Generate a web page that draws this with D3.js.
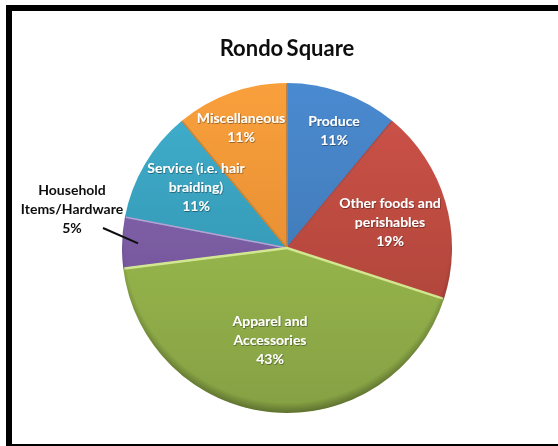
<!DOCTYPE html>
<html>
<head>
<meta charset="utf-8">
<script src="https://cdn.jsdelivr.net/npm/d3@7"></script>
<style>
    html, body { margin: 0; padding: 0; background: #fff; }
    svg { display: block; }
    text { font-family: Lato, "Open Sans", sans-serif; font-weight: 700; text-anchor: middle; }
</style>
</head>
<body>
<div id="chart"></div>
<script>
// Chart data
const categories = ["Produce", "Other foods and perishables", "Apparel and Accessories",
    "Household Items/Hardware", "Service (i.e. hair braiding)", "Miscellaneous"];
const shares = [11, 19, 43, 5, 11, 11];
const labelLines = [
    ["Produce", "11%"],
    ["Other foods and", "perishables", "19%"],
    ["Apparel and", "Accessories", "43%"],
    ["Household", "Items/Hardware", "5%"],
    ["Service (i.e. hair", "braiding)", "11%"],
    ["Miscellaneous", "11%"]
];
const chartTitle = "Rondo Square";

// Slice colours: top of gradient, bottom of gradient, edge highlight
const topColors = ["#4a8ad0", "#cf5449", "#a6c854", "#8a68b4", "#3fb0cf", "#f9a03c"];
const bottomColors = ["#3a70a8", "#a33f35", "#85a043", "#6a4d8e", "#2f88a2", "#d9822b"];
const edgeColors = ["#3d74b0", "#b5483e", "#d2e890", "#b7a0d4", "#4a9db8", "#d98428"];

// Where each label sits, relative to the pie centre
const labelOffsets = [[47, -122], [103, -40], [-17, 78], [-215, -53], [-91, -75], [-46, -125]];
const labelColors = ["#fff", "#fff", "#fff", "#111", "#fff", "#fff"];

const width = 558, height = 446;
const cx = 287, cy = 248, radius = 165;

const svg = d3.select("#chart").append("svg")
    .attr("width", width)
    .attr("height", height);

const defs = svg.append("defs");

// One vertical gradient per slice, spanning the whole pie
categories.forEach((c, i) => {
    const g = defs.append("linearGradient")
        .attr("id", `slice-${i}`)
        .attr("gradientUnits", "userSpaceOnUse")
        .attr("x1", 0).attr("x2", 0)
        .attr("y1", -radius).attr("y2", radius);
    g.append("stop").attr("offset", "0%").attr("stop-color", topColors[i]);
    g.append("stop").attr("offset", "100%").attr("stop-color", bottomColors[i]);
});

// Darkened rim, centred high so it only shows towards the bottom
const rim = defs.append("radialGradient")
    .attr("id", "rim")
    .attr("gradientUnits", "userSpaceOnUse")
    .attr("cx", 0).attr("cy", -8).attr("r", radius + 8);
rim.append("stop").attr("offset", "94%").attr("stop-color", "#000").attr("stop-opacity", 0);
rim.append("stop").attr("offset", "100%").attr("stop-color", "#000").attr("stop-opacity", 0.3);

defs.append("filter").attr("id", "soft")
    .append("feGaussianBlur").attr("stdDeviation", 0.35);

const labelShadow = defs.append("filter").attr("id", "label-shadow")
    .attr("x", "-10%").attr("y", "-20%").attr("width", "120%").attr("height", "140%");
labelShadow.append("feDropShadow")
    .attr("dx", 0.6).attr("dy", 0.8).attr("stdDeviation", 0.6)
    .attr("flood-color", "#000").attr("flood-opacity", 0.45);

// Black frame: open on the right, as in the picture
const frameColor = "#000";
svg.append("rect").attr("x", 6).attr("y", 5).attr("width", width - 6).attr("height", 6).attr("fill", frameColor);
svg.append("rect").attr("x", 6).attr("y", 5).attr("width", 6).attr("height", height - 5).attr("fill", frameColor);
svg.append("rect").attr("x", 6).attr("y", 444).attr("width", width - 6).attr("height", 2).attr("fill", frameColor);

svg.append("text")
    .attr("x", cx)
    .attr("y", 56)
    .attr("font-size", 22)
    .attr("fill", "#111")
    .attr("word-spacing", "-2px")
    .attr("filter", "url(#soft)")
    .text(chartTitle);

const pie = d3.pie().sort(null)(shares);
const arc = d3.arc().innerRadius(0).outerRadius(radius);

const pieGroup = svg.append("g")
    .attr("transform", `translate(${cx},${cy})`)
    .attr("filter", "url(#soft)");

pieGroup.selectAll(".slice")
    .data(pie)
    .enter()
    .append("path")
    .attr("class", "slice")
    .attr("d", arc)
    .attr("fill", (d, i) => `url(#slice-${i})`);

// Bevel line along the edges of each slice
const edges = pieGroup.selectAll(".edge")
    .data(pie)
    .enter()
    .append("path")
    .attr("class", "edge")
    .attr("d", d => {
        const p0 = d3.pointRadial(d.startAngle, radius - 1);
        const p1 = d3.pointRadial(d.endAngle, radius - 1);
        return `M${p0[0]},${p0[1]}L0,0L${p1[0]},${p1[1]}`;
    })
    .attr("fill", "none")
    .attr("stroke", (d, i) => edgeColors[i])
    .attr("stroke-width", (d, i) => i === 2 ? 2.5 : 1.5);

// The household and apparel highlights sit on top of their neighbours
edges.filter((d, i) => i === 3).raise();
edges.filter((d, i) => i === 2).raise();

pieGroup.append("circle").attr("r", radius).attr("fill", "url(#rim)");

// Leader line for the household label
const leaderStart = [-184, -20];
const leaderEnd = d3.pointRadial(pie[3].startAngle + (pie[3].endAngle - pie[3].startAngle) * 0.5, radius - 16);
pieGroup.append("path")
    .attr("d", d3.line()([leaderStart, leaderEnd]))
    .attr("stroke", "#111")
    .attr("stroke-width", 2);

// Labels
const labels = svg.append("g").attr("transform", `translate(${cx},${cy})`);
labelLines.forEach((lines, i) => {
    const t = labels.append("text")
        .attr("x", labelOffsets[i][0])
        .attr("y", labelOffsets[i][1])
        .attr("font-size", 14)
        .attr("fill", labelColors[i])
        .attr("filter", labelColors[i] === "#fff" ? "url(#label-shadow)" : "url(#soft)");
    lines.forEach((line, k) => {
        t.append("tspan")
            .attr("x", labelOffsets[i][0])
            .attr("dy", k === 0 ? 0 : 19)
            .text(line);
    });
});
</script>
</body>
</html>
